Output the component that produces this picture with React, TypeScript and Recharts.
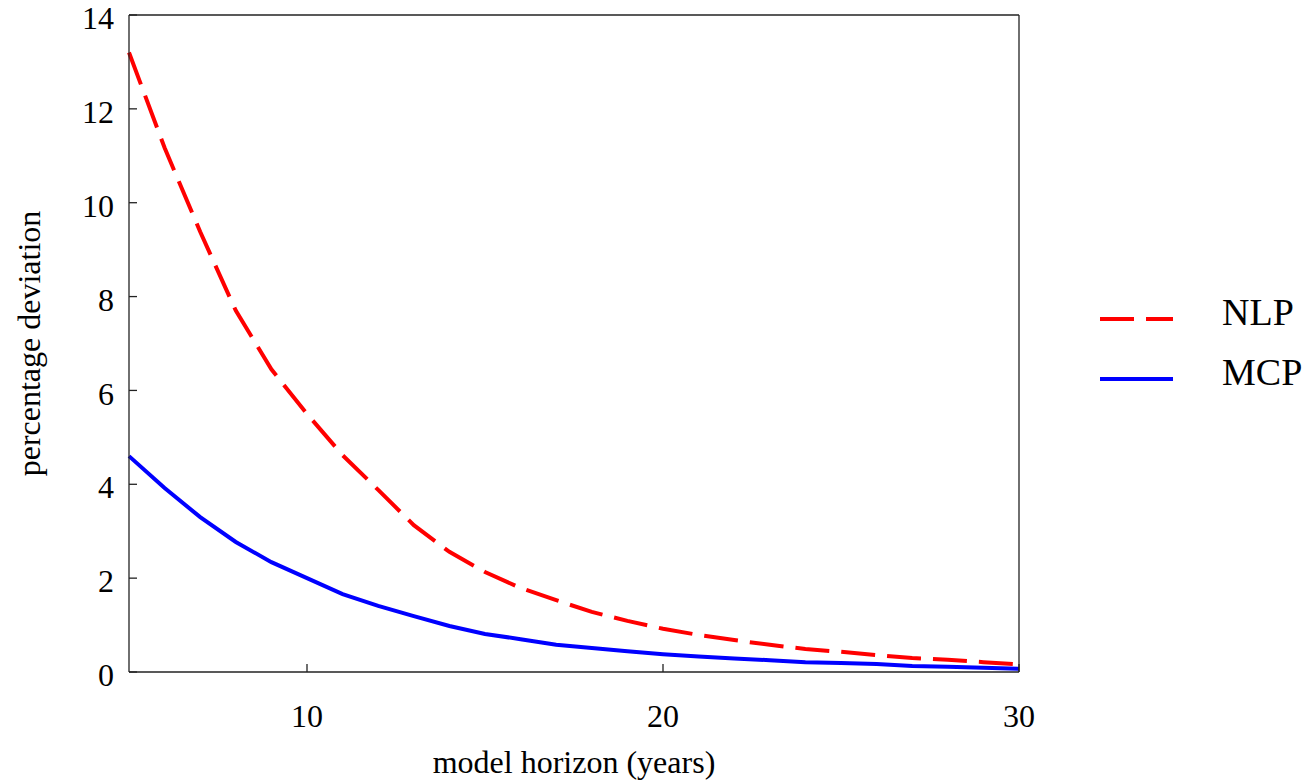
import { LineChart, Line, XAxis, YAxis, Legend } from "recharts";

const years = [5, 6, 7, 8, 9, 10, 11, 12, 13, 14, 15, 16, 17, 18, 19, 20, 21, 22, 23, 24, 25, 26, 27, 28, 29, 30];
const nlp = [13.2, 11.17, 9.38, 7.7, 6.45, 5.5, 4.62, 3.88, 3.13, 2.56, 2.13, 1.79, 1.53, 1.28, 1.09, 0.92, 0.79, 0.68, 0.58, 0.49, 0.43, 0.36, 0.3, 0.26, 0.21, 0.16];
const mcp = [4.6, 3.92, 3.3, 2.77, 2.34, 2.0, 1.66, 1.41, 1.19, 0.98, 0.81, 0.7, 0.58, 0.51, 0.44, 0.38, 0.33, 0.29, 0.25, 0.21, 0.19, 0.17, 0.13, 0.11, 0.09, 0.07];
const xTicks = [10, 20, 30];
const yTicks = [0, 2, 4, 6, 8, 10, 12, 14];
const legendOrder = ["NLP", "MCP"];

const data = years.map((x, i) => ({ x, nlp: nlp[i], mcp: mcp[i] }));

const FONT = '"Liberation Serif", "Times New Roman", serif';
const serif = { fontFamily: FONT };
const frame = { stroke: "#222", strokeWidth: 1.3 };

// serif tick labels, font has to go through style
const XTick = (p: any) => (
  <text x={p.x} y={p.y} dy="0.71em" textAnchor="middle" fill="#000" fontSize={32} style={serif}>
    {p.payload.value}
  </text>
);
const YTick = (p: any) => (
  <text x={p.x} y={p.y} dy="0.44em" textAnchor="end" fill="#000" fontSize={32} style={serif}>
    {p.payload.value}
  </text>
);

function LegendBox(props: any) {
  const items = [...(props.payload || [])].sort(
    (a: any, b: any) => legendOrder.indexOf(a.value) - legendOrder.indexOf(b.value)
  );
  return (
    <svg width={217} height={120}>
      {items.map((it: any, i: number) => {
        const y = 29 + i * 60;
        return (
          <g key={it.value}>
            <line
              x1={10}
              x2={83}
              y1={y}
              y2={y}
              stroke={it.color}
              strokeWidth={4}
              strokeDasharray={it.payload?.strokeDasharray}
            />
            <text x={132} y={y + 6} fontSize={38} fill="#000" style={serif}>
              {it.value}
            </text>
          </g>
        );
      })}
    </svg>
  );
}

export default function App() {
  return (
    <div style={{ position: "absolute", left: 0, top: 0, background: "#fff", fontFamily: FONT }}>
      <LineChart width={1307} height={781} data={data} margin={{ top: 0, right: 0, bottom: 0, left: 0 }}>
        <XAxis
          dataKey="x"
          type="number"
          domain={[5, 30]}
          ticks={xTicks}
          height={109}
          axisLine={frame}
          tickLine={frame}
          tickSize={-8}
          tickMargin={40}
          tick={<XTick />}
          label={{ value: "model horizon (years)", position: "insideBottom", offset: 8, style: { fill: "#000", fontSize: 32, fontFamily: FONT } }}
        />
        <XAxis
          xAxisId="top"
          orientation="top"
          dataKey="x"
          type="number"
          domain={[5, 30]}
          ticks={xTicks}
          height={15}
          axisLine={frame}
          tickLine={frame}
          tickSize={-8}
          tick={false}
        />
        <YAxis
          domain={[0, 14]}
          ticks={yTicks}
          width={129}
          axisLine={frame}
          tickLine={frame}
          tickSize={-8}
          tickMargin={23}
          tick={<YTick />}
          label={{ value: "percentage deviation", angle: -90, position: "insideLeft", offset: 29, style: { textAnchor: "middle", fill: "#000", fontSize: 32, fontFamily: FONT } }}
        />
        <YAxis
          yAxisId="right"
          orientation="right"
          domain={[0, 14]}
          ticks={yTicks}
          width={288}
          axisLine={frame}
          tickLine={frame}
          tickSize={-8}
          tick={false}
        />
        <Legend
          layout="horizontal"
          verticalAlign="middle"
          align="center"
          content={<LegendBox />}
          wrapperStyle={{ left: 1090, top: 290, width: 217, height: 120 }}
        />
        <Line
          dataKey="nlp"
          name="NLP"
          stroke="#ff0000"
          strokeWidth={4}
          strokeDasharray="34 12"
          dot={false}
          type="linear"
          isAnimationActive={false}
        />
        <Line
          dataKey="mcp"
          name="MCP"
          stroke="#0000ff"
          strokeWidth={4}
          dot={false}
          type="linear"
          isAnimationActive={false}
        />
      </LineChart>
    </div>
  );
}
